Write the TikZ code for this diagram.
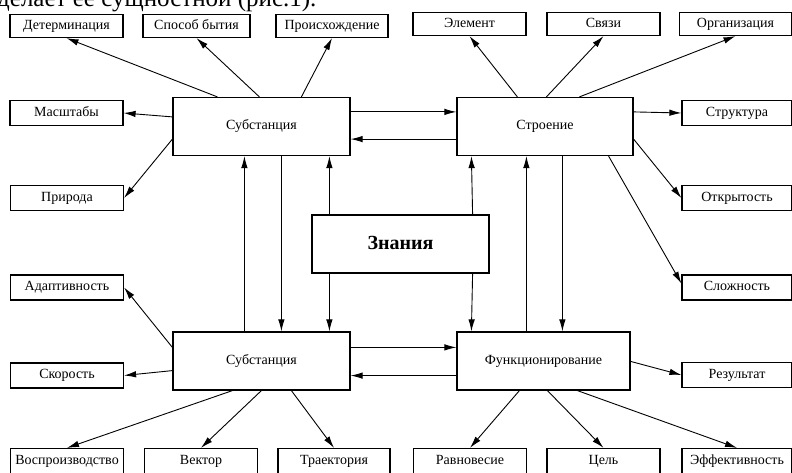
\documentclass[tikz,border=0pt]{standalone}
\usepackage{fontspec}
\setmainfont{Liberation Serif}
\usetikzlibrary{arrows.meta}

\begin{document}
\begin{tikzpicture}[x=1pt,y=-1pt,
    box/.style={draw, line width=1.2pt, minimum width=113pt, minimum height=25pt, inner sep=0pt, text height=9pt, text depth=2.5pt, font=\fontsize{14}{15}\selectfont},
    top/.style={box, minimum height=23pt},
    big/.style={box, minimum width=177pt, minimum height=58pt},
    arr/.style={-{Latex[length=12pt,width=6.5pt]}, line width=0.9pt}]
    \path[use as bounding box, clip](0,0)rectangle(792,473);
    \node[anchor=base west, inner sep=0pt, font=\fontsize{25}{27}\selectfont](caption)at(-3,7){делает ее сущностной (рис.1).};

    \node[top](det)at(66.5,26){Детерминация};
    \node[top,minimum width=107pt](sposob)at(196.5,26){Способ бытия};
    \node[top,minimum width=112pt](proish)at(332,26){Происхождение};
    \node[top](elem)at(469.5,24){Элемент};
    \node[top](svyazi)at(603.5,24){Связи};
    \node[top,minimum width=112pt](org)at(735.5,24){Организация};

    \node[box](masht)at(66.5,113){Масштабы};
    \node[box,minimum width=110pt](struct)at(737,113){Структура};
    \node[box](priroda)at(67,198){Природа};
    \node[box,minimum width=110pt](otkr)at(737,198){Открытость};
    \node[box](adapt)at(67,287.5){Адаптивность};
    \node[box,minimum width=110pt](slozh)at(737,287.5){Сложность};
    \node[box](skor)at(67,375.5){Скорость};
    \node[box,minimum width=110pt](rez)at(737,375){Результат};

    \node[box](vosp)at(67,461){Воспроизводство};
    \node[box](vektor)at(201,461){Вектор};
    \node[box,minimum width=112pt](traj)at(334,461){Траектория};
    \node[box](ravn)at(470,461){Равновесие};
    \node[box](cel)at(603.5,461){Цель};
    \node[box,minimum width=110pt](eff)at(737,461){Эффективность};

    \node[big](sub1)at(261.5,126.5){Субстанция};
    \node[big,minimum width=176pt](stroenie)at(545,126.5){Строение};
    \node[big,font=\fontsize{20}{22}\selectfont\bfseries,text height=13pt,text depth=3pt](znaniya)at(400.5,244){Знания};
    \node[big](sub2)at(261.5,361){Субстанция};
    \node[big,minimum width=173pt](func)at(543.5,361){Функционирование};

    \draw[arr]([xshift=45pt]sub1.north west)--(det.south);
    \draw[arr]([xshift=87pt]sub1.north west)--(sposob.south);
    \draw[arr]([xshift=129pt]sub1.north west)--(proish.south);
    \draw[arr]([yshift=-20pt]sub1.north west)--(masht.east);
    \draw[arr]([yshift=17pt]sub1.south west)--(priroda.east);

    \draw[arr]([yshift=-15pt]sub1.north east)--([yshift=-15pt]stroenie.north west);
    \draw[arr]([yshift=17pt]stroenie.south west)--([yshift=17pt]sub1.south east);

    \draw[arr]([xshift=61pt]stroenie.north west)--(elem.south);
    \draw[arr]([xshift=90pt]stroenie.north west)--(svyazi.south);
    \draw[arr]([xshift=123pt]stroenie.north west)--(org.south);
    \draw[arr]([yshift=-15pt]stroenie.north east)--(struct.west);
    \draw[arr]([yshift=17pt]stroenie.south east)--(otkr.west);
    \draw[arr]([xshift=-25pt]stroenie.south east)--([yshift=4pt]slozh.west);

    \draw[arr]([xshift=72pt]sub2.north west)--([xshift=72pt]sub1.south west);
    \draw[arr]([xshift=109pt]sub1.south west)--([xshift=109pt]sub2.north west);
    \draw[arr]([xshift=18pt]znaniya.north west)--([xshift=157pt]sub1.south west);
    \draw[arr]([xshift=18pt]znaniya.south west)--([xshift=157pt]sub2.north west);
    \draw[arr]([xshift=-17pt]znaniya.north east)--([xshift=15pt]stroenie.south west);
    \draw[arr]([xshift=-17pt]znaniya.south east)--([xshift=15pt]func.north west);
    \draw[arr]([xshift=70pt]func.north west)--([xshift=70pt]stroenie.south west);
    \draw[arr]([xshift=106pt]stroenie.south west)--([xshift=106pt]func.north west);

    \draw[arr]([yshift=-16pt]sub2.north east)--([yshift=-16pt]func.north west);
    \draw[arr]([yshift=15pt]func.south west)--([yshift=15pt]sub2.south east);

    \draw[arr]([yshift=-16pt]sub2.north west)--(adapt.east);
    \draw[arr]([yshift=20pt]sub2.south west)--(skor.east);
    \draw[arr]([xshift=60pt]sub2.south west)--(vosp.north);
    \draw[arr]([xshift=89pt]sub2.south west)--(vektor.north);
    \draw[arr]([xshift=119pt]sub2.south west)--(traj.north);

    \draw[arr]([yshift=-30pt]func.north east)--(rez.west);
    \draw[arr]([xshift=63pt]func.south west)--(ravn.north);
    \draw[arr]([xshift=91pt]func.south west)--(cel.north);
    \draw[arr]([xshift=121pt]func.south west)--(eff.north);
\end{tikzpicture}
\end{document}
